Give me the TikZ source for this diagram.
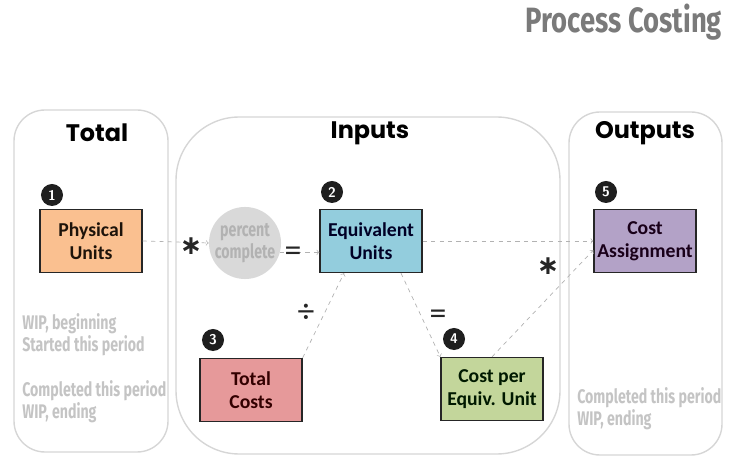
\documentclass[tikz,border=0pt]{standalone}
\usepackage{fontspec}
\setmainfont{Carlito}
\newfontfamily\headfont{Poppins}
\newfontfamily\narrowfont[FakeStretch=0.72]{Fira Sans}
\newfontfamily\bannerfont[FakeStretch=0.78]{Fira Sans}
\newfontfamily\symfont{DejaVu Sans}
\definecolor{physfill}{HTML}{FAC090}
\definecolor{equivfill}{HTML}{93CDDD}
\definecolor{costfill}{HTML}{E6999A}
\definecolor{unitfill}{HTML}{C3D69B}
\definecolor{assignfill}{HTML}{B3A2C7}
\definecolor{panelline}{HTML}{D6D6D6}
\definecolor{notegray}{HTML}{C4C4C4}

\begin{document}
\begin{tikzpicture}[x=0.025cm,y=-0.025cm,
	stepbox/.style={draw=black!85,line width=0.9pt,minimum width=2.55cm,minimum height=1.575cm,
		align=center,font=\bfseries\fontsize{14}{16}\selectfont,inner sep=1pt},
	badge/.style={circle,fill=black!88,text=white,minimum size=0.55cm,inner sep=0pt,
		font=\sffamily\bfseries\fontsize{10}{10}\selectfont},
	panel/.style={draw=panelline,line width=1pt},
	title/.style={font=\headfont\bfseries\fontsize{17}{19}\selectfont},
	note/.style={anchor=west,text=notegray,align=left,inner sep=0pt,
		font=\narrowfont\bfseries\fontsize{14}{15.6}\selectfont},
	op/.style={font=\fontsize{24}{24}\selectfont,text=black!85,inner sep=0pt},
	times/.style={font=\symfont\bfseries\fontsize{19}{19}\selectfont,text=black!85,inner sep=0pt},
	flow/.style={->,dashed,draw=black!30,line width=0.5pt}]
	%\draw[help lines] (0,0) grid[step=50] (730,464);
	\useasboundingbox (0,0) rectangle (730,464);
	\node[anchor=east,text=black!52,font=\bannerfont\bfseries\fontsize{25}{27}\selectfont] (banner) at (727,22) {Process Costing};

	% panels
	\draw[panel,rounded corners=22] (14,110) rectangle (168,452);
	\draw[panel,rounded corners=45] (176,117) rectangle (560,454);
	\draw[panel,rounded corners=22] (569,112) rectangle (722,455);
	\node[title] (ttotal) at (97,133) {Total};
	\node[title] (tinputs) at (370,133) {Inputs};
	\node[title] (toutputs) at (645,133) {Outputs};

	% boxes
	\node[stepbox,fill=physfill,text=black!85!brown] (phys) at (91,241) {Physical\\Units};
	\node[stepbox,fill=equivfill,text=black!85!blue] (equiv) at (371,241) {Equivalent\\Units};
	\node[stepbox,fill=costfill,text=black!80!red] (tcost) at (251,390) {Total\\Costs};
	\node[stepbox,fill=unitfill,text=black!90!green] (cpe) at (492,389) {Cost per\\Equiv. Unit};
	\node[stepbox,fill=assignfill,text=black!80!violet] (assign) at (645,241) {Cost\\Assignment};

	\node[badge] (b1) at (52,195) {1};
	\node[badge] (b2) at (332,192) {2};
	\node[badge] (b3) at (213,340) {3};
	\node[badge] (b4) at (454,339) {4};
	\node[badge] (b5) at (606,192) {5};

	\node[circle,fill=black!15,minimum size=1.6cm,inner sep=0pt,align=center,text=black!30,
		font=\narrowfont\bfseries\fontsize{14}{16}\selectfont] (pct) at (245,243) {percent\\complete};

	% connectors
	\draw[flow] (phys.east) -- (pct.west);
	\draw[flow] (pct.-15) -- (pct.-15 -| equiv.west);
	\draw[flow] (tcost.north east) -- (equiv.-130);
	\draw[flow] (equiv.-47) -- (cpe.north west);
	\draw[flow] (equiv.east) -- (assign.west);
	\draw[flow] (cpe.north) -- (assign.-170);

	\node[times] (times1) at (191,246) {∗};
	\node[op] (eq1) at (293,254) {=};
	\node[op] (divide) at (306,313) {÷};
	\node[op] (eq2) at (438,317) {=};
	\node[times] (times2) at (548,266) {∗};

	% notes
	\node[note] (nstart) at (22,335) {WIP, beginning\\Started this period};
	\node[note] (nend) at (22,402) {Completed this period\\WIP, ending};
	\node[note] (nout) at (577,409) {Completed this period\\WIP, ending};
\end{tikzpicture}
\end{document}
